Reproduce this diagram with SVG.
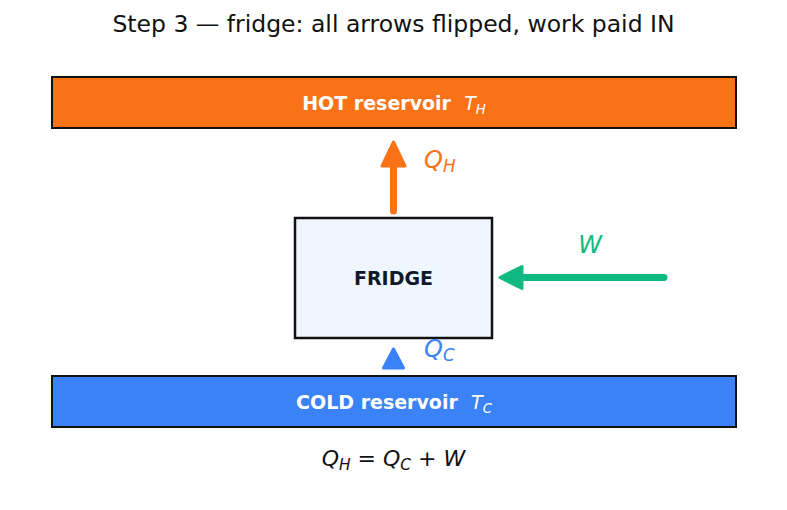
<svg xmlns="http://www.w3.org/2000/svg" width="787" height="510" viewBox="0 0 787 510">
<style>
text{font-family:"DejaVu Sans",sans-serif}
.title{font-size:23.5px;fill:#111}
.res{font-size:19px;font-weight:bold;fill:#fff}
.mi{font-style:italic;font-weight:normal}
.sub{font-size:70%}
.box{stroke:#111;stroke-width:2}
.lbl{font-size:24px;font-style:italic}
.eq{font-size:22px;fill:#111}
</style>
<rect width="787" height="510" fill="#fff"/>
<text class="title" x="393.5" y="32" text-anchor="middle">Step 3 — fridge: all arrows flipped, work paid IN</text>
<g id="hot">
<rect class="box" x="52" y="77" width="684" height="51" fill="#f97316"/>
<text class="res" x="394" y="109.5" text-anchor="middle">HOT reservoir&#160;&#160;<tspan class="mi">T</tspan><tspan class="mi sub" dy="4">H</tspan></text>
</g>
<g id="fridge">
<rect x="295" y="218" width="197" height="120" fill="#eff6ff" stroke="#111" stroke-width="2.5"/>
<text x="393.5" y="284.5" text-anchor="middle" font-size="19" font-weight="bold" fill="#111827">FRIDGE</text>
</g>
<g id="cold">
<rect class="box" x="52" y="376" width="684" height="51" fill="#3b82f6"/>
<text class="res" x="394" y="408.5" text-anchor="middle">COLD reservoir&#160;&#160;<tspan class="mi">T</tspan><tspan class="mi sub" dy="4">C</tspan></text>
</g>
<g id="connectors">
<line x1="393.5" y1="211" x2="393.5" y2="162" stroke="#f97316" stroke-width="7" stroke-linecap="round"/>
<path d="M393.5 142 L405 166 L382 166 Z" fill="#f97316" stroke="#f97316" stroke-width="3" stroke-linejoin="round"/>
<line x1="664" y1="277.5" x2="520" y2="277.5" stroke="#10b981" stroke-width="7" stroke-linecap="round"/>
<path d="M500 277.5 L522 266.5 L522 288.5 Z" fill="#10b981" stroke="#10b981" stroke-width="3" stroke-linejoin="round"/>
<path d="M393.5 349 L403.5 368 L383.5 368 Z" fill="#3b82f6" stroke="#3b82f6" stroke-width="3" stroke-linejoin="round"/>
</g>
<g id="labels">
<text class="lbl" x="424" y="168" fill="#f97316">Q<tspan class="sub" dy="4">H</tspan></text>
<text class="lbl" x="590" y="253" text-anchor="middle" fill="#10b981">W</text>
<text class="lbl" x="424" y="357" fill="#3b82f6">Q<tspan class="sub" dy="4">C</tspan></text>
</g>
<text class="eq" x="393.5" y="466" text-anchor="middle"><tspan font-style="italic">Q</tspan><tspan font-style="italic" class="sub" dy="4">H</tspan><tspan dy="-4"> = </tspan><tspan font-style="italic">Q</tspan><tspan font-style="italic" class="sub" dy="4">C</tspan><tspan dy="-4"> + </tspan><tspan font-style="italic">W</tspan></text>
</svg>
